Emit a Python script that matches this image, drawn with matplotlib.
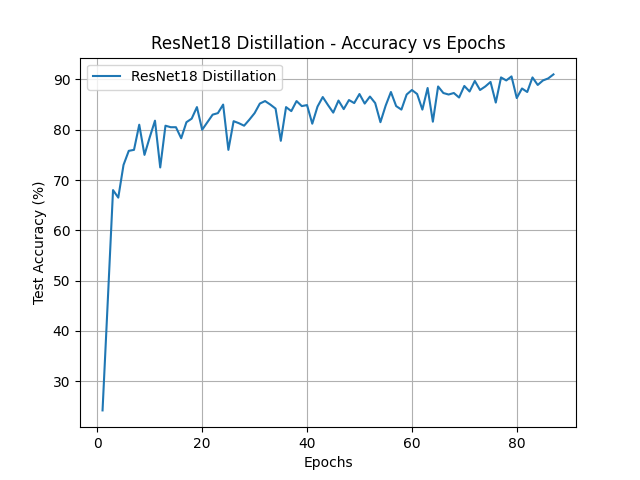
import matplotlib
matplotlib.use("Agg")
import matplotlib.pyplot as plt

accuracy = [24.2, 46, 68, 66.5, 73, 75.8, 76, 81, 75, 78.5, 81.8, 72.5, 80.8, 80.5, 80.5, 78.3, 81.5, 82.2, 84.5, 80,
            81.5, 83, 83.3, 85, 76, 81.7, 81.3, 80.8, 82, 83.3, 85.2, 85.7, 85, 84.2, 77.8, 84.5, 83.7, 85.7, 84.7, 84.9,
            81.2, 84.6, 86.5, 84.9, 83.4, 85.8, 84.1, 85.9, 85.3, 87.1, 85.2, 86.6, 85.3, 81.5, 84.8, 87.5, 84.7, 84, 87, 87.9,
            87.1, 84, 88.3, 81.6, 88.6, 87.3, 87, 87.3, 86.4, 88.7, 87.6, 89.7, 87.9, 88.6, 89.5, 85.4, 90.4, 89.8, 90.6, 86.3,
            88.2, 87.5, 90.4, 88.9, 89.8, 90.2, 91]
epochs = list(range(1, len(accuracy) + 1))

fig, ax = plt.subplots(figsize=(6.4, 4.8), dpi=100)
ax.plot(epochs, accuracy, label="ResNet18 Distillation")
ax.set_title("ResNet18 Distillation - Accuracy vs Epochs")
ax.set_xlabel("Epochs")
ax.set_ylabel("Test Accuracy (%)")
ax.grid(True)
ax.legend(loc="upper left")
fig.savefig("out.png")
